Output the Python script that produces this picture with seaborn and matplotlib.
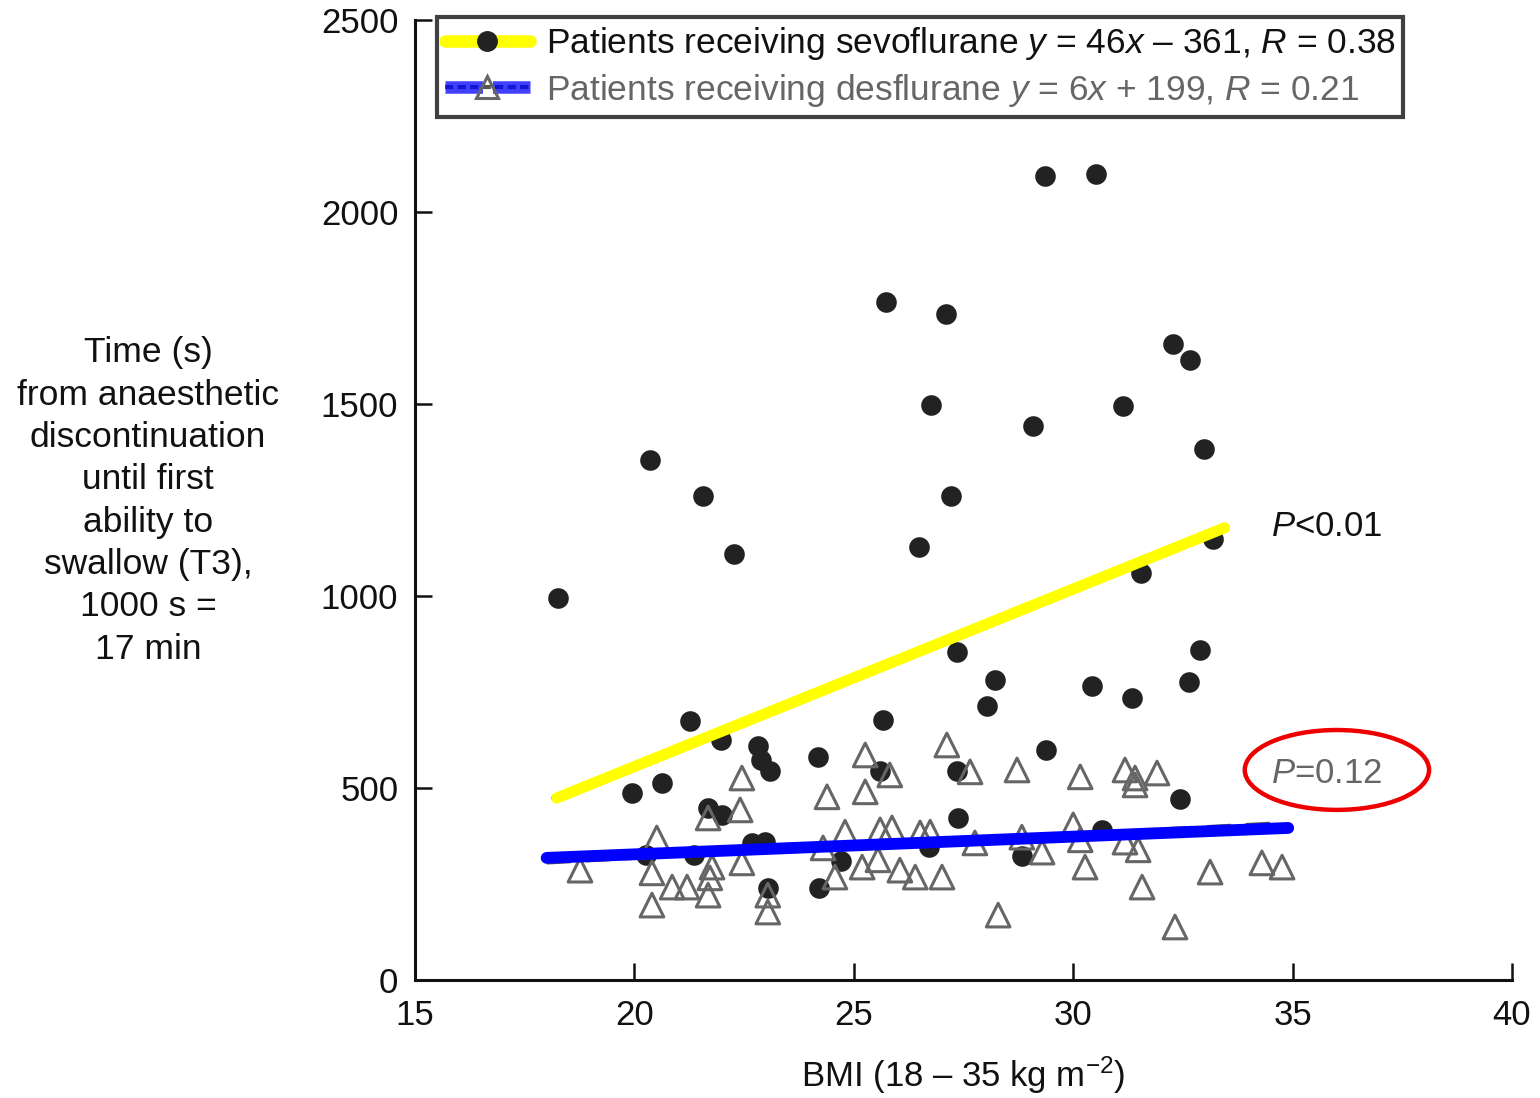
import numpy as np
import pandas as pd
import matplotlib
matplotlib.use("Agg")
import matplotlib.pyplot as plt
import seaborn as sns
from matplotlib.lines import Line2D
from matplotlib.legend_handler import HandlerTuple
from matplotlib.patches import Ellipse

# ---------------- data ----------------
sevo_bmi = [18.26, 20.36, 21.56, 22.27, 25.73, 27.10, 26.76, 27.21, 26.49, 29.36,
            30.52, 29.08, 31.13, 32.27, 32.66, 32.98, 33.19, 31.55, 27.35, 28.22,
            28.04, 30.43, 31.34, 32.89, 32.64, 32.43, 29.38, 21.27, 21.97, 25.67,
            20.63, 19.95, 22.82, 22.89, 23.10, 24.18, 25.60, 27.35, 21.68, 22.00,
            27.37, 20.26, 21.36, 22.68, 22.98, 23.04, 24.21, 24.71, 26.71, 28.83,
            30.66]
sevo_time = [995, 1354, 1260, 1109, 1766, 1734, 1497, 1260, 1128, 2094,
             2099, 1443, 1495, 1656, 1615, 1383, 1148, 1060, 854, 781,
             714, 766, 734, 859, 776, 471, 599, 674, 625, 677,
             513, 487, 609, 573, 544, 581, 544, 544, 448, 430,
             422, 326, 326, 357, 359, 240, 240, 310, 346, 323,
             391]

des_bmi = [18.76, 20.51, 20.40, 20.40, 20.86, 21.20, 21.68, 21.72, 21.77, 21.68,
           22.45, 22.41, 22.45, 23.04, 23.04, 24.39, 25.26, 25.82, 25.26, 24.80,
           24.30, 24.57, 25.19, 25.60, 25.87, 25.55, 26.05, 26.40, 27.12, 27.65,
           28.72, 30.16, 26.51, 26.74, 27.76, 27.01, 28.83, 29.29, 30.00, 30.16,
           30.27, 28.29, 31.18, 31.41, 31.41, 31.91, 31.18, 31.48, 31.57, 33.12,
           34.30, 34.76, 32.32]
des_time = [286, 370, 279, 195, 242, 242, 221, 266, 294, 422,
            526, 443, 305, 221, 177, 477, 586, 534, 490, 385,
            344, 268, 294, 391, 396, 313, 286, 268, 612, 542,
            547, 529, 383, 385, 357, 268, 372, 333, 404, 365,
            294, 169, 547, 526, 508, 539, 359, 339, 242, 281,
            305, 294, 138]

# regression lines
sevo_slope, sevo_intercept = 46, -361
sevo_fit_x = [18.15, 33.45]
des_slope, des_intercept = 6, 199
des_fit_x = [18.0, 34.6]
des_drawn_x = [18.0, 34.9]
des_drawn_y = [318, 396]

x_ticks = [15, 20, 25, 30, 35, 40]
y_ticks = [0, 500, 1000, 1500, 2000, 2500]

sevo_label = r"Patients receiving sevoflurane $y$ = 46$x$ – 361, $R$ = 0.38"
des_label = r"Patients receiving desflurane $y$ = 6$x$ + 199, $R$ = 0.21"
y_label = ("Time (s)\nfrom anaesthetic\ndiscontinuation\nuntil first\n"
           "ability to\nswallow (T3),\n1000 s =\n17 min")
x_label = r"BMI (18 – 35 kg m$^{-2}$)"

# ---------------- style ----------------
sns.set_theme(style="white")
plt.rcParams["font.family"] = ["Liberation Sans", "DejaVu Sans"]
plt.rcParams["mathtext.fontset"] = "custom"
plt.rcParams["mathtext.rm"] = "Liberation Sans"
plt.rcParams["mathtext.it"] = "Liberation Sans:italic"
plt.rcParams["mathtext.bf"] = "Liberation Sans:bold"

fig = plt.figure(figsize=(15.4, 10.98), dpi=100)
ax = fig.add_axes([415 / 1540, 1 - 980 / 1098, 1097 / 1540, 960 / 1098])

sevo_df = pd.DataFrame({"bmi": sevo_bmi, "time": sevo_time})
des_df = pd.DataFrame({"bmi": des_bmi, "time": des_time})

sx = np.array(sevo_fit_x)
sevo_fit_df = pd.DataFrame({"bmi": sx, "time": sevo_slope * sx + sevo_intercept})
sevo_yellow_df = pd.DataFrame({"bmi": sx + np.array([0.08, 0.0]),
                               "time": sevo_slope * sx + sevo_intercept})
dx = np.array(des_fit_x)
des_fit_df = pd.DataFrame({"bmi": dx, "time": des_slope * dx + des_intercept})
des_drawn_df = pd.DataFrame({"bmi": des_drawn_x, "time": des_drawn_y})

# points
sns.scatterplot(data=sevo_df, x="bmi", y="time", ax=ax, marker="o", s=220,
                color="#222222", edgecolor="#222222", linewidth=0, zorder=3)
sns.scatterplot(data=des_df, x="bmi", y="time", ax=ax, marker="^", s=290,
                color="#666666", facecolor="none", edgecolor="#666666",
                linewidth=2.2, zorder=3)

# regression lines
sns.lineplot(data=sevo_fit_df, x="bmi", y="time", ax=ax, color="#111111",
             linewidth=3, zorder=4)
sns.lineplot(data=sevo_yellow_df, x="bmi", y="time", ax=ax, color="#FFFF00",
             linewidth=8, zorder=5)
sns.lineplot(data=des_fit_df, x="bmi", y="time", ax=ax, color="#555555",
             linewidth=3.5, linestyle=(0, (5, 3)), zorder=4)
sns.lineplot(data=des_drawn_df, x="bmi", y="time", ax=ax, color="#0000FF",
             linewidth=8.5, zorder=5)

# axes
ax.set_xlim(15, 40)
ax.set_ylim(0, 2500)
ax.set_xticks(x_ticks)
ax.set_yticks(y_ticks)
ax.set_xticklabels([str(t) for t in x_ticks])
ax.set_yticklabels([str(t) for t in y_ticks])
ax.tick_params(axis="both", direction="in", length=12, width=1.8,
               colors="#111111", labelsize=25, bottom=True, left=True)
ax.tick_params(axis="x", pad=14)
ax.tick_params(axis="y", pad=12)
for side in ["top", "right"]:
    ax.spines[side].set_visible(False)
for side in ["left", "bottom"]:
    ax.spines[side].set_color("#111111")
    ax.spines[side].set_linewidth(2.2)
ax.set_xlabel("")
ax.set_ylabel("")
ax.patch.set_alpha(0)

fig.text(963 / 1540, 1 - 1075 / 1098, x_label, ha="center", va="center",
         fontsize=25, color="#111111")
fig.text(148 / 1540, 1 - 501 / 1098, y_label, ha="center", va="center",
         fontsize=25.5, color="#111111", linespacing=1.36, multialignment="center")

# annotations
ax.text(34.5, 1180, r"$P$<0.01", fontsize=25, color="#111111",
        ha="left", va="center")
ax.text(34.5, 539, r"$P$=0.12", fontsize=25, color="#666666",
        ha="left", va="center")
ax.add_patch(Ellipse((36.01, 547), 4.2, 208, fill=False, edgecolor="#EE0000",
                     linewidth=3.2, zorder=6, clip_on=False))

# legend
h_sevo = (Line2D([], [], color="#111111", lw=3),
          Line2D([], [], color="#FFFF00", lw=9),
          Line2D([], [], color="#222222", marker="o", ls="none", ms=14))
h_des = (Line2D([], [], color="#555555", lw=3, ls=(0, (2, 1))),
         Line2D([], [], color="#0000FF", lw=9, ls=(0, (3, 0.8)), alpha=0.75),
         Line2D([], [], color="#666666", marker="^", ls="none", ms=16,
                markerfacecolor="none", markeredgewidth=2.2))
leg = ax.legend([h_sevo, h_des], [sevo_label, des_label],
                handler_map={tuple: HandlerTuple(ndivide=1, pad=0)},
                loc="upper left", bbox_to_anchor=(0.02, 1.003), borderaxespad=0,
                frameon=True, fancybox=False, edgecolor="#111111",
                fontsize=25.5, handlelength=2.4, handletextpad=0.45,
                borderpad=0.22, labelspacing=0.28)
leg.get_frame().set_linewidth(3)
leg.get_texts()[0].set_color("#111111")
leg.get_texts()[1].set_color("#666666")

fig.savefig("out.png", dpi=100, facecolor="white")
